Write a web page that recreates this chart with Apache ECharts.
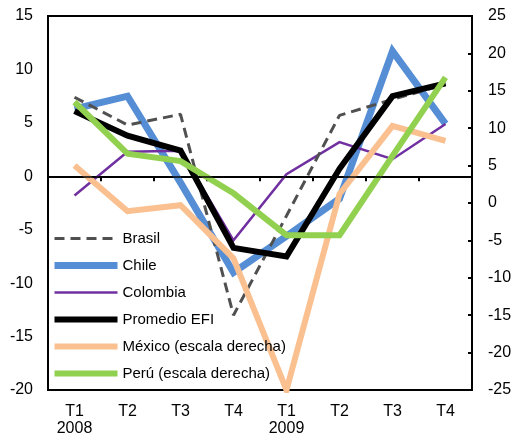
<!DOCTYPE html>
<html>
<head>
<meta charset="utf-8">
<script src="https://cdn.jsdelivr.net/npm/echarts@6/dist/echarts.min.js"></script>
<style>
html,body{margin:0;padding:0;background:#fff;}
#c{width:516px;height:437px;}
</style>
</head>
<body>
<div id="c"></div>
<script>
const categories = ['T1\n2008', 'T2', 'T3', 'T4', 'T1\n2009', 'T2', 'T3', 'T4'];
const brasil   = [7.4, 4.8, 5.8, -13.0, -3.7, 5.7, 7.2, 8.6];
const chile    = [6.3, 7.5, -0.6, -9.0, -5.6, -2.1, 11.7, 4.9];
const colombia = [-1.8, 2.3, 2.4, -6.0, 0.2, 3.2, 1.6, 4.9];
const promedio = [6.1, 3.8, 2.4, -6.7, -7.5, 0.7, 7.5, 8.7];
const mexico   = [5.0, -1.1, -0.3, -7.4, -25, 1.2, 10.3, 8.3];
const peru     = [13.5, 6.6, 5.6, 1.3, -4.3, -4.3, 6.3, 16.8];
const leftTicks = {min: -20, max: 15, interval: 5};
const rightTicks = {min: -25, max: 25, interval: 5};

const FONT = '"Liberation Sans", Arial, sans-serif';
const chart = echarts.init(document.getElementById('c'), null, {renderer: 'canvas'});

function line(name, data, color, width, yIdx, extra) {
  return Object.assign({
    name: name, type: 'line', data: data, yAxisIndex: yIdx,
    symbol: 'none', showSymbol: false, animation: false,
    lineStyle: {color: color, width: width, join: 'miter', cap: 'butt'},
    itemStyle: {color: color},
    emphasis: {disabled: true}
  }, extra || {});
}

chart.setOption({
  animation: false,
  backgroundColor: '#fff',
  textStyle: {fontFamily: FONT},
  grid: {left: 48, right: 44, top: 16, bottom: 44, show: true, borderColor: '#000', borderWidth: 2, containLabel: false},
  legend: {
    orient: 'vertical', left: 46, top: 226,
    itemWidth: 63, itemHeight: 14, itemGap: 12,
    data: ['Brasil', 'Chile', 'Colombia', 'Promedio EFI', 'México (escala derecha)', 'Perú (escala derecha)'],
    textStyle: {fontFamily: FONT, fontSize: 15, color: '#000', lineHeight: 15},
    itemStyle: {opacity: 0, borderWidth: 0},
    lineStyle: {width: 'inherit'},
    selectedMode: false
  },
  xAxis: {
    type: 'category', data: categories, boundaryGap: true,
    axisLine: {lineStyle: {color: '#000', width: 2}},
    axisTick: {show: true, length: 5, lineStyle: {color: '#000', width: 2}},
    axisLabel: {color: '#000', fontSize: 16, fontFamily: FONT, margin: 13, lineHeight: 17, interval: 0},
    splitLine: {show: false}
  },
  yAxis: [
    {
      type: 'value', position: 'left', min: leftTicks.min, max: leftTicks.max, interval: leftTicks.interval,
      axisLine: {show: true, lineStyle: {color: '#000', width: 2}},
      axisTick: {show: false},
      axisLabel: {color: '#000', fontSize: 16, fontFamily: FONT, margin: 15},
      splitLine: {show: false}
    },
    {
      type: 'value', position: 'right', min: rightTicks.min, max: rightTicks.max, interval: rightTicks.interval,
      axisLine: {show: true, lineStyle: {color: '#000', width: 2}},
      axisTick: {show: true, inside: true, length: 4, lineStyle: {color: '#000', width: 2}},
      axisLabel: {color: '#000', fontSize: 16, fontFamily: FONT, margin: 16},
      splitLine: {show: false}
    }
  ],
  series: [
    line('Chile', chile, '#558ED5', 7, 0, {
      markLine: {silent: true, symbol: 'none', animation: false, label: {show: false},
        lineStyle: {color: '#000', width: 1.5, type: 'solid'}, data: [{yAxis: 0}]}
    }),
    line('Colombia', colombia, '#7030A0', 2.5, 0),
    line('Brasil', brasil, '#505050', 3, 0, {lineStyle: {color: '#505050', width: 3, type: [10, 6]}}),
    line('México (escala derecha)', mexico, '#FAC090', 6, 1),
    line('Promedio EFI', promedio, '#000000', 6, 0),
    line('Perú (escala derecha)', peru, '#92D050', 6, 1)
  ]
});
</script>
</body>
</html>
